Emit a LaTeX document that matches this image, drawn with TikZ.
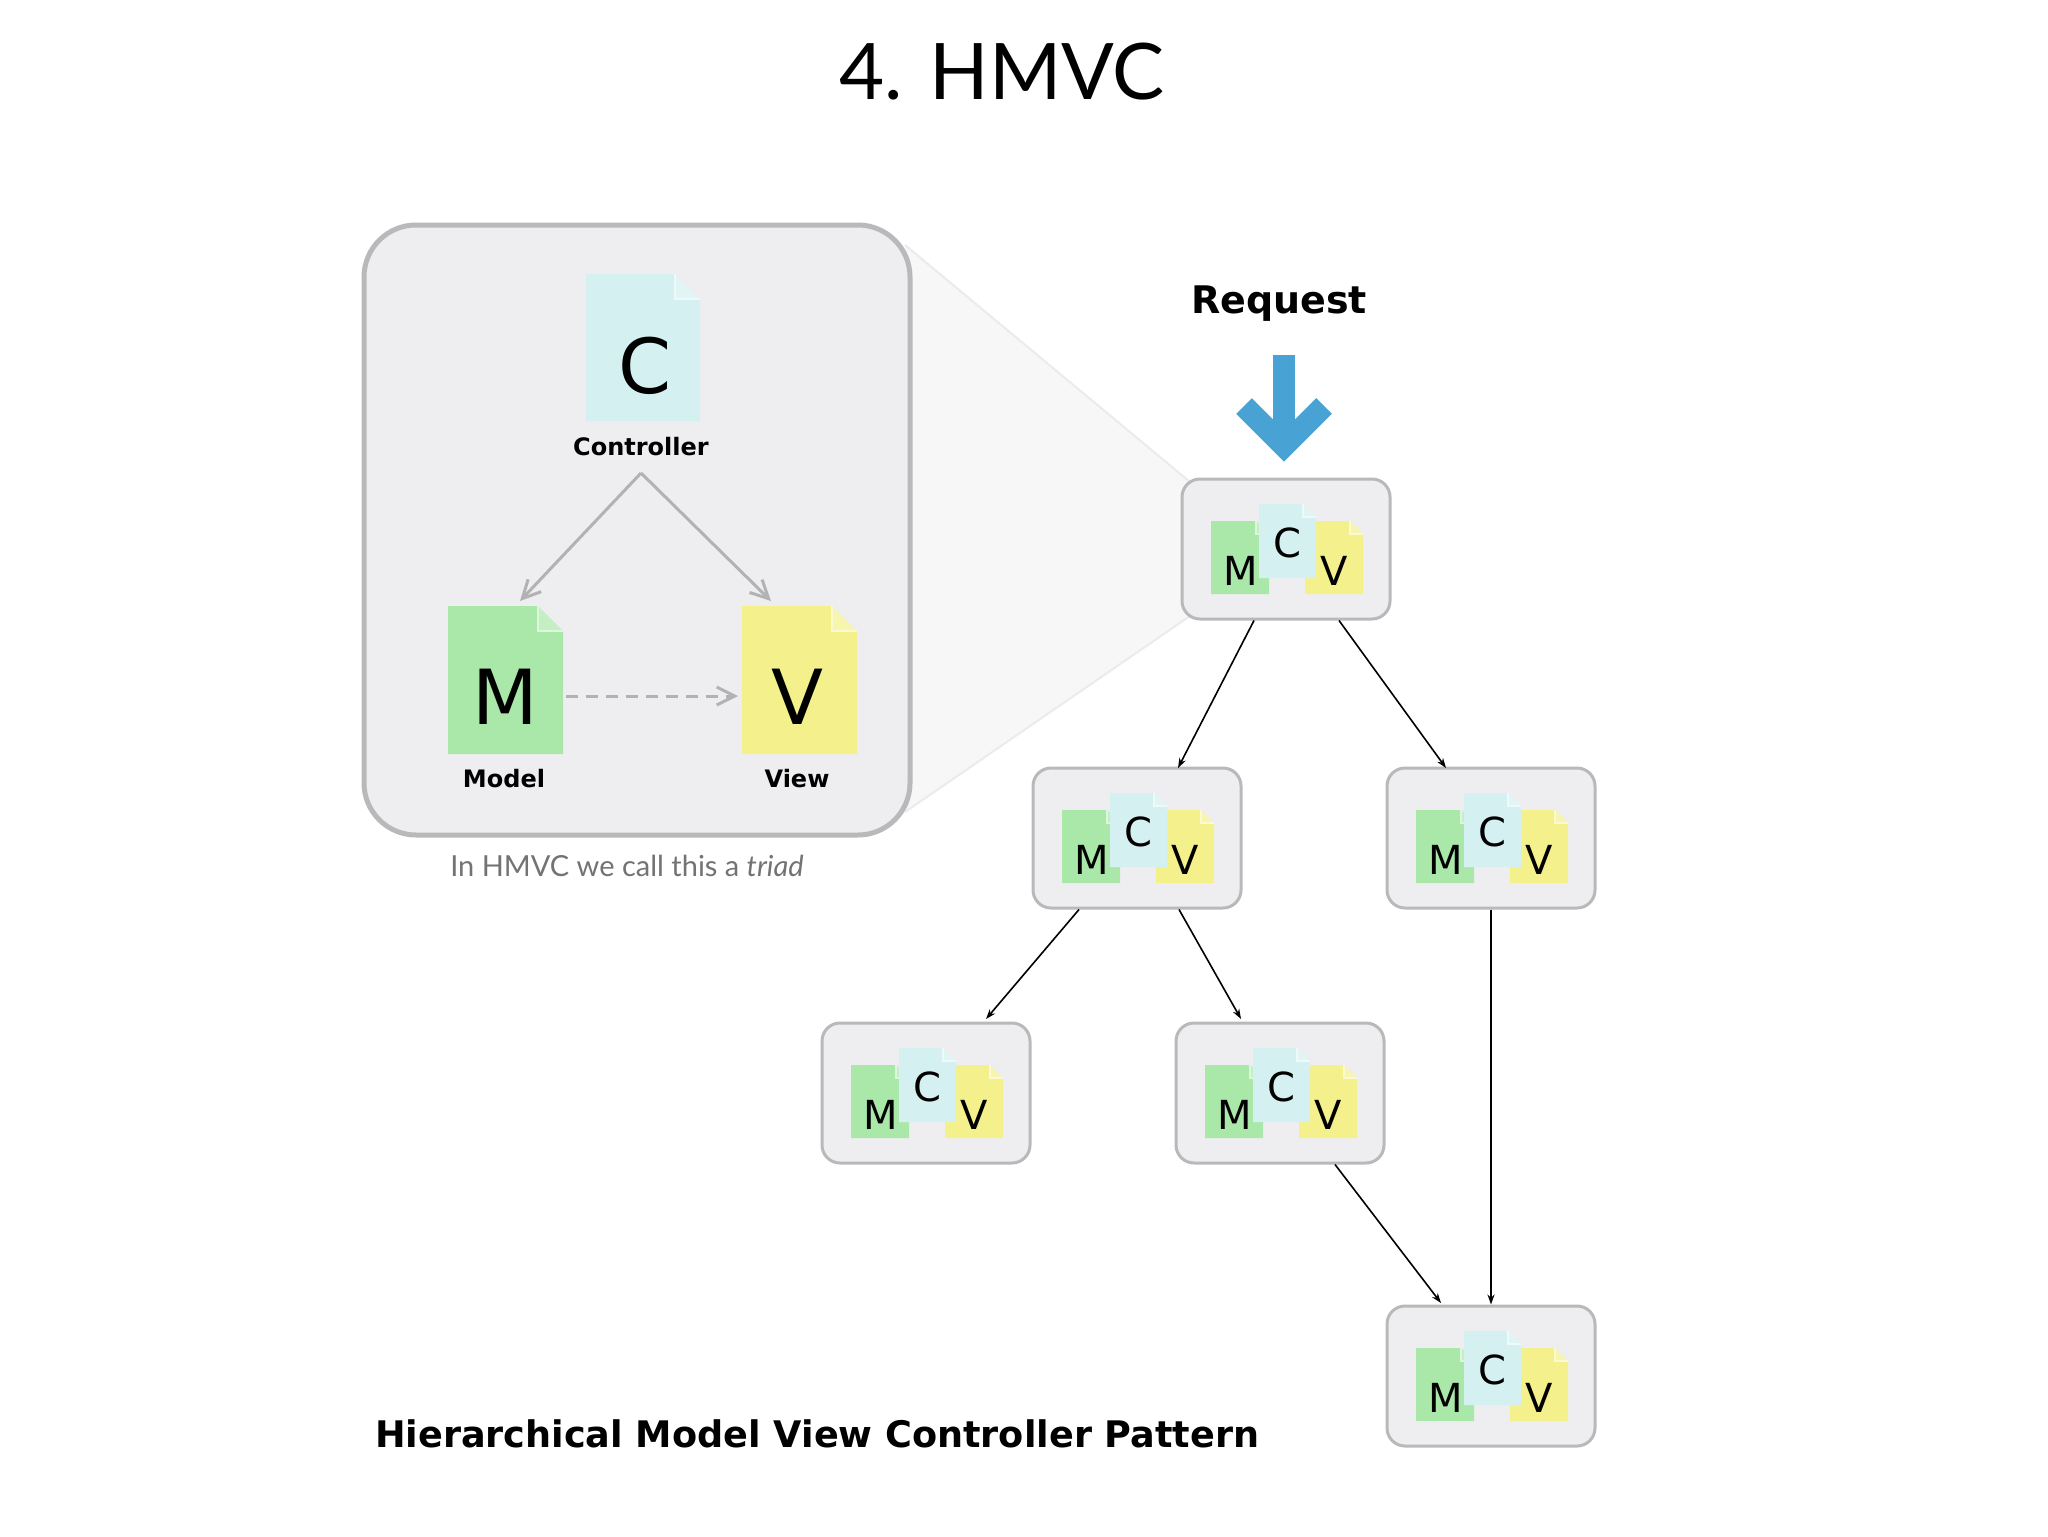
\documentclass[tikz,border=0pt]{standalone}
\usepackage{fontspec}
\setmainfont{DejaVu Sans}
\newfontfamily\lato{Lato}
\usetikzlibrary{arrows.meta}
\definecolor{cfill}{RGB}{212,240,240}
\definecolor{mfill}{RGB}{170,232,170}
\definecolor{vfill}{RGB}{244,240,140}
\definecolor{boxfill}{RGB}{238,238,240}
\definecolor{boxline}{RGB}{185,185,188}
\definecolor{reqblue}{RGB}{72,162,212}
\newcommand\mydoc[5]{% x1 y1 x2 y2 colour
  \pgfmathsetmacro\fd{0.22*(#3-#1)}
  \fill[#5] (#1,#2) -- (#3-\fd,#2) -- (#3,#2+\fd) -- (#3,#4) -- (#1,#4) -- cycle;
  \fill[#5!70!white] (#3-\fd,#2) -- (#3-\fd,#2+\fd) -- (#3,#2+\fd) -- cycle;
  \draw[white!60!#5, line width=1] (#3-\fd,#2) -- (#3-\fd,#2+\fd) -- (#3,#2+\fd);}
\newcommand\mini[3]{% name, cx, cy
  \node[mvc] (#1) at (#2,#3) {};
  \begin{scope}[shift={(#2,#3)}]
    \mydoc{-75}{-28}{-17}{45}{mfill}
    \mydoc{19}{-28}{77}{45}{vfill}
    \mydoc{-27}{-45}{30}{29}{cfill}
    \node[letter] at (-45,22) {M};
    \node[letter] at (1,-6) {C};
    \node[letter] at (48,22) {V};
  \end{scope}}
\tikzset{
  mvc/.style={draw=boxline, fill=boxfill, line width=1.5, rounded corners=9,
    minimum width=104pt, minimum height=70pt, inner sep=0},
  letter/.style={font=\fontsize{20}{20}\selectfont, inner sep=0},
  biglet/.style={font=\fontsize{38}{38}\selectfont, inner sep=0},
  lbl/.style={font=\bfseries\fontsize{12}{12}\selectfont, inner sep=0},
  tarrow/.style={-{Straight Barb[length=9pt,width=9pt]}, draw=black!30, line width=1.5},
  tree/.style={-{Stealth[length=5pt,width=3.5pt]}, line width=0.8}
}
\begin{document}
\begin{tikzpicture}[x=0.5pt,y=-0.5pt]
\useasboundingbox (0,0) rectangle (2048,1536);
\fill[white] (0,0) rectangle (2048,1536);
\node[font=\lato\fontsize{39}{39}\selectfont] (title) at (1002,72) {4. HMVC};
% zoom wedge
\fill[black!3] (905,245) -- (1190,482) -- (1190,616) -- (905,812) -- cycle;
\draw[black!8, line width=1] (905,245) -- (1190,482) (905,812) -- (1190,616);
% triad box
\node[draw=boxline, fill=boxfill, line width=2.5, rounded corners=26,
  minimum width=273pt, minimum height=305pt] (triad) at (637,530) {};
\mydoc{586}{274}{700}{421}{cfill}
\mydoc{448}{606}{563}{754}{mfill}
\mydoc{742}{606}{857}{754}{vfill}
\node[biglet] (C) at (645,366) {C};
\node[biglet] (M) at (505,697) {M};
\node[biglet] (V) at (797,697) {V};
\node[lbl] (cl) at (641,447) {Controller};
\node[lbl] (ml) at (504,779) {Model};
\node[lbl] (vl) at (797,779) {View};
\coordinate (ctop) at (641,473);
\coordinate (mend) at (520,601);
\coordinate (vend) at (771,601);
\draw[tarrow] (ctop) -- (mend);
\draw[tarrow] (ctop) -- (vend);
\draw[tarrow, dash pattern=on 6pt off 4pt] (566,696) -- (738,696);
\node[font=\lato\fontsize{14.5}{14.5}\selectfont, text=black!55] (cap) at (627,866) {In HMVC we call this a \textit{triad}};
% request
\node[font=\bfseries\fontsize{19}{19}\selectfont] (req) at (1279,304) {Request};
\draw[reqblue, line width=11] (1284,355) -- (1284,445);
\draw[reqblue, line width=11, miter limit=10] (1244,406) -- (1284,446) -- (1324,406);
% boxes
\mini{b1}{1286}{549}
\mini{b2}{1137}{838}
\mini{b3}{1491}{838}
\mini{b4}{926}{1093}
\mini{b5}{1280}{1093}
\mini{b6}{1491}{1376}
\draw[tree] (b1.south -| 1254,0) -- (1178,768);
\draw[tree] (b1.south -| 1339,0) -- (1446,768);
\draw[tree] (b2.south -| 1079,0) -- (986,1019);
\draw[tree] (b2.south -| 1179,0) -- (1241,1019);
\draw[tree] (b5.south -| 1335,0) -- (1441,1303);
\draw[tree] (b3.south) -- (b6.north);
\node[font=\bfseries\fontsize{18.3}{18.3}\selectfont, anchor=west] (foot) at (368,1434) {Hierarchical Model View Controller Pattern};
\end{tikzpicture}
\end{document}
